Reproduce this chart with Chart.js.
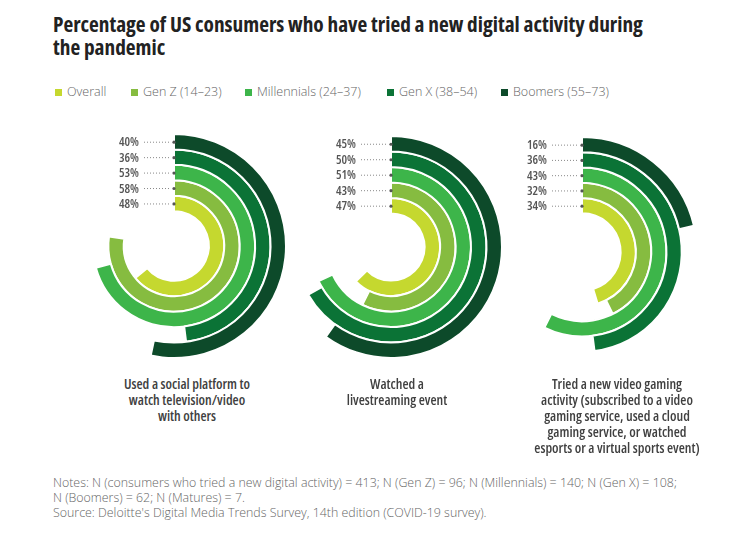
<!DOCTYPE html>
<html>
<head>
<meta charset="utf-8">
<script src="https://cdn.jsdelivr.net/npm/chart.js@4.4.1/dist/chart.umd.min.js"></script>
<style>
    body { margin: 0; background: #fff; width: 750px; height: 535px; position: relative; overflow: hidden; }
    .title { position: absolute; left: 53px; top: 12px; width: 680px; font-family: "Open Sans", sans-serif; font-stretch: condensed; font-weight: bold; font-size: 21.3px; line-height: 23px; color: #222; }
    .legend { position: absolute; top: 84px; left: 0; height: 16px; }
    .legend span { position: absolute; white-space: nowrap; font-family: "Open Sans", sans-serif; font-weight: 300; font-size: 12.5px; color: #666; line-height: 16px; }
    .legend i { display: inline-block; width: 7px; height: 7px; margin-right: 5px; vertical-align: 0px; }
    .chart { position: absolute; width: 240px; height: 240px; }
    .caption { position: absolute; width: 240px; text-align: center; font-family: "Open Sans", sans-serif; font-stretch: condensed; font-weight: 600; font-size: 14px; line-height: 16px; color: #404040; }
    .notes { position: absolute; left: 53px; top: 475px; font-family: "Open Sans", sans-serif; font-weight: 300; font-size: 12.4px; line-height: 15px; color: #666; }
</style>
</head>
<body>
<div class="title">Percentage of US consumers who have tried a new digital activity during<br>the pandemic</div>
<div class="legend" id="legend"></div>

<div class="chart" id="wrap0"><canvas id="chart0" width="240" height="240"></canvas></div>
<div class="chart" id="wrap1"><canvas id="chart1" width="240" height="240"></canvas></div>
<div class="chart" id="wrap2"><canvas id="chart2" width="240" height="240"></canvas></div>

<div class="caption" id="cap0"></div>
<div class="caption" id="cap1"></div>
<div class="caption" id="cap2"></div>

<div class="notes">Notes: N (consumers who tried a new digital activity) = 413; N (Gen Z) = 96; N (Millennials) = 140; N (Gen X) = 108;<br>N (Boomers) = 62; N (Matures) = 7.<br>Source: Deloitte's Digital Media Trends Survey, 14th edition (COVID-19 survey).</div>

<script>
// groups, innermost ring first
const groups = ['Overall', 'Gen Z (14–23)', 'Millennials (24–37)', 'Gen X (38–54)', 'Boomers (55–73)'];
const groupColors = ['#c5d82f', '#86bc40', '#3db54a', '#0b7336', '#0d4a2a'];

// percentages per activity, same order as groups
const socialTv = [48, 58, 53, 36, 40];
const livestream = [47, 43, 51, 50, 45];
const gaming = [34, 32, 43, 36, 16];

// a full turn of the rings stands for this share
const fullTurn = 75;

const activities = [
    ['Used a social platform to', 'watch television/video', 'with others'],
    ['Watched a', 'livestreaming event'],
    ['Tried a new video gaming', 'activity (subscribed to a video', 'gaming service, used a cloud', 'gaming service, or watched', 'esports or a virtual sports event)']
];
const activityValues = [socialTv, livestream, gaming];

// layout: ring centres, outer radius, caption centre
const centers = [[174, 246], [391, 247], [582, 252]];
const radii = [112, 111, 115];
const captionX = [187, 397, 617];
const legendX = [55, 131, 245, 387, 501];

// legend
const legend = document.getElementById('legend');
groups.forEach((g, i) => {
    const s = document.createElement('span');
    s.style.left = legendX[i] + 'px';
    s.innerHTML = `<i style="background:${groupColors[i]}"></i>${g}`;
    legend.appendChild(s);
});

// percent labels with dotted leaders at the start of every ring
const ringLabels = {
    id: 'ringLabels',
    afterDatasetsDraw(chart) {
        const ctx = chart.ctx;
        ctx.save();
        chart.data.datasets.forEach((ds, i) => {
            const arc = chart.getDatasetMeta(i).data[0];
            const x = arc.x;
            const y = arc.y - (arc.innerRadius + arc.outerRadius) / 2;
            ctx.strokeStyle = '#888';
            ctx.lineWidth = 1;
            ctx.setLineDash([1, 2]);
            ctx.beginPath();
            ctx.moveTo(x - 30, y + 0.5);
            ctx.lineTo(x - 3, y + 0.5);
            ctx.stroke();
            ctx.setLineDash([]);
            ctx.fillStyle = '#555';
            ctx.beginPath();
            ctx.arc(x, y + 0.5, 1.6, 0, Math.PI * 2);
            ctx.fill();
            ctx.font = 'condensed 600 12.5px "Open Sans", sans-serif';
            ctx.textAlign = 'right';
            ctx.textBaseline = 'middle';
            ctx.fillText(ds.data[0] + '%', x - 35, y + 1);
        });
        ctx.restore();
    }
};

activityValues.forEach((values, c) => {
    const wrap = document.getElementById('wrap' + c);
    wrap.style.left = (centers[c][0] - 120) + 'px';
    wrap.style.top = (centers[c][1] - 120) + 'px';

    // outermost ring (Boomers) is the first dataset
    const datasets = groups.map((g, i) => ({
        label: g,
        data: [values[i], fullTurn - values[i]],
        backgroundColor: [groupColors[i], 'rgba(0,0,0,0)'],
        borderColor: '#fff',
        borderWidth: [2, 0]
    })).reverse();

    new Chart(document.getElementById('chart' + c), {
        type: 'doughnut',
        data: { labels: ['share', 'rest'], datasets },
        options: {
            responsive: false,
            animation: false,
            events: [],
            radius: radii[c],
            cutout: radii[c] - 75,
            layout: { padding: 0 },
            plugins: { legend: { display: false }, tooltip: { enabled: false } }
        },
        plugins: [ringLabels]
    });

    const cap = document.getElementById('cap' + c);
    cap.style.left = (captionX[c] - 120) + 'px';
    cap.style.top = '376px';
    cap.innerHTML = activities[c].join('<br>');
});
</script>
</body>
</html>
